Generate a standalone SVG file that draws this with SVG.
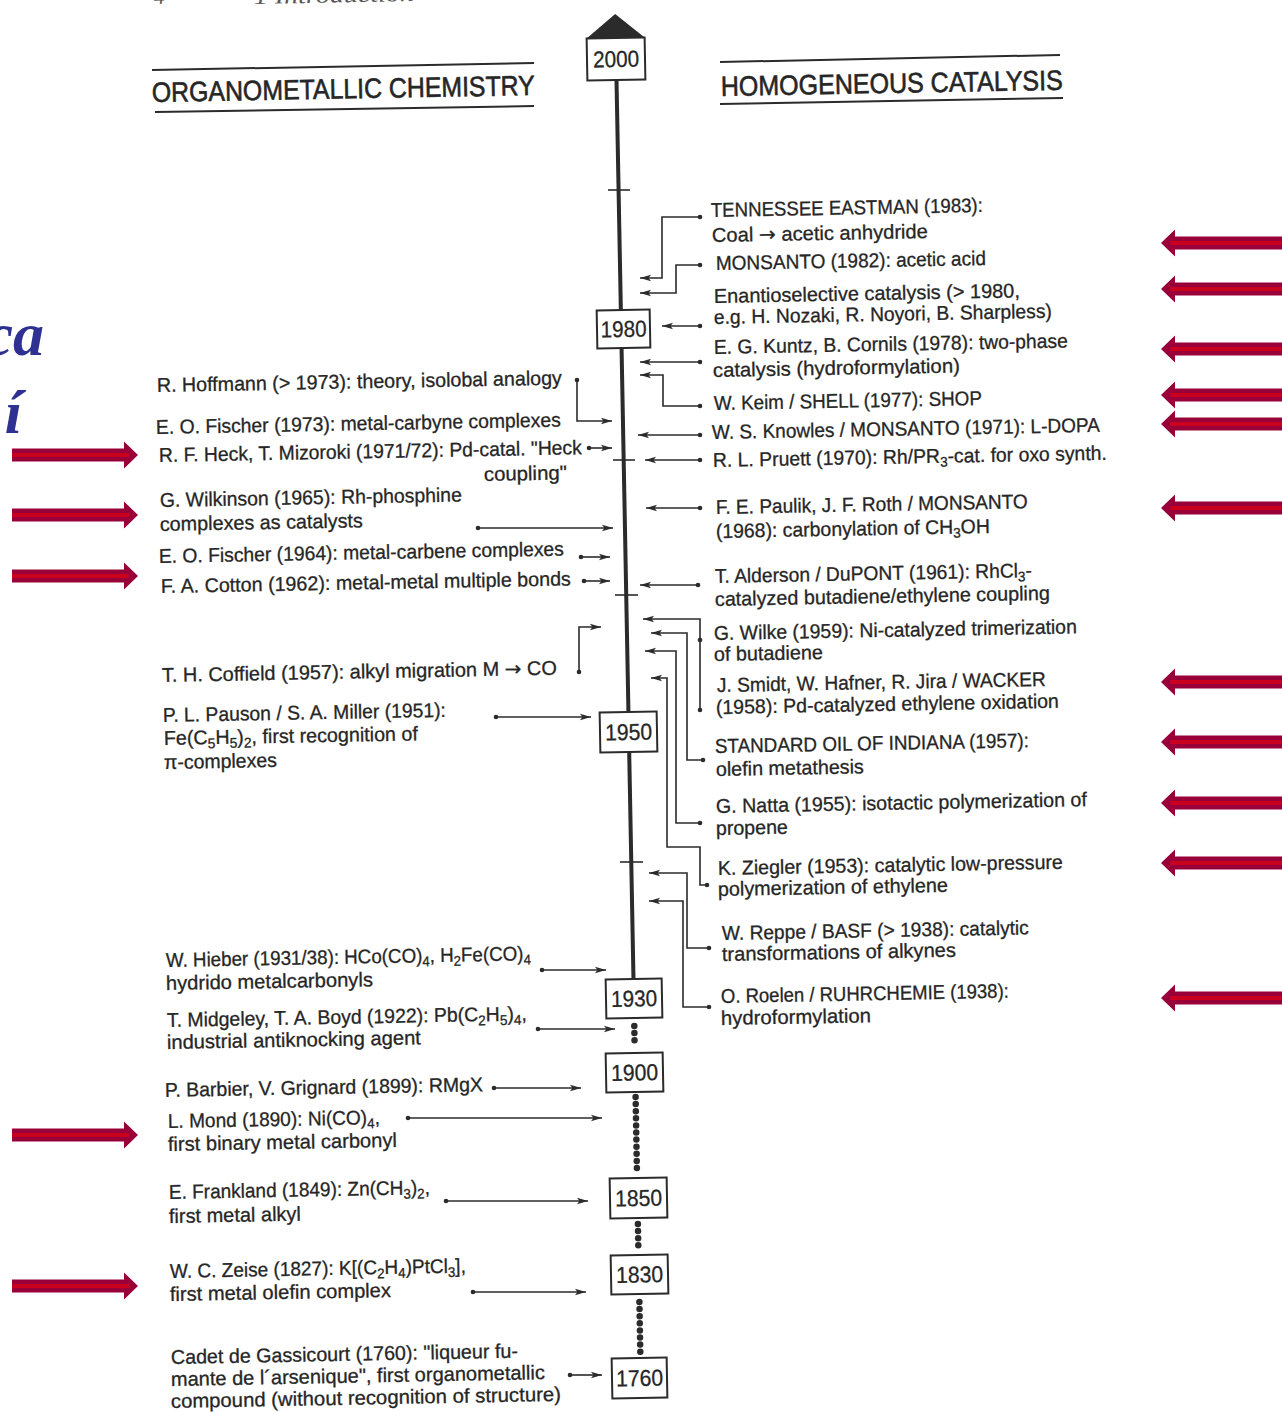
<svg xmlns="http://www.w3.org/2000/svg" width="1282" height="1412" viewBox="0 0 1282 1412">
<defs>
<style>
text{font-family:"Liberation Sans",Arial,Helvetica,sans-serif;fill:#262626}
.t{font-size:20px;stroke:#262626;stroke-width:0.3}
.s{font-size:14px}
.ar{font-family:"DejaVu Sans",sans-serif}
.hd{font-size:28px;stroke:#262626;stroke-width:0.6}
.yr rect{fill:#fff;stroke:#2b2b2b;stroke-width:2}
.yr text{font-size:23px;text-anchor:middle;stroke:#262626;stroke-width:0.3}
.rule{stroke:#2b2b2b;stroke-width:2}
.cn{fill:none;stroke:#2b2b2b;stroke-width:1.6;marker-start:url(#dot);marker-end:url(#ah)}
.axis{stroke:#2b2b2b;stroke-width:4}
.beads{stroke:#2b2b2b;stroke-width:6.5;stroke-dasharray:0 7.1;stroke-linecap:round}
.tick{stroke:#2b2b2b;stroke-width:1.6}
.slide{font-family:"Liberation Serif","Times New Roman",serif;font-weight:bold;font-style:italic;font-size:62px;fill:#2e3192}
.hdr{font-family:"Liberation Serif","Times New Roman",serif;font-style:italic;font-size:22px;fill:#555}
</style>
<marker id="ah" markerUnits="userSpaceOnUse" markerWidth="12" markerHeight="8" refX="11" refY="4" orient="auto"><path d="M0,0.8 L11,4 L0,7.2 L2.5,4 Z" fill="#2b2b2b"/></marker>
<marker id="dot" markerUnits="userSpaceOnUse" markerWidth="6" markerHeight="6" refX="3" refY="3"><circle cx="3" cy="3" r="2.3" fill="#2b2b2b"/></marker>
<g id="red-arrow"><path d="M0,0 L14,-13.5 L14,-6.5 L126,-6.5 L126,6.5 L14,6.5 L14,13.5 Z" fill="#99003a"/><path d="M9,0 H126" stroke="#c8001e" stroke-width="4"/></g>
</defs>
<rect width="1282" height="1412" fill="#fff"/>

<!-- page header (cut off) -->
<g id="page-header">
<text class="hdr" x="154" y="4" transform="rotate(-1.05 154 4)">4</text>
<text class="hdr" x="254" y="4" transform="rotate(-1.05 254 4)" textLength="160" lengthAdjust="spacingAndGlyphs">1  Introduction</text>
</g>

<!-- slide title fragments -->
<g id="slide-title">
<text class="slide" x="44" y="355" text-anchor="end">ca</text>
<text class="slide" x="22" y="433" text-anchor="end">í</text>
</g>

<!-- headings -->
<g id="heading-left">
<line class="rule" x1="152" y1="70" x2="534" y2="63"/>
<line class="rule" x1="155" y1="112" x2="534" y2="106"/>
<text class="hd" x="152" y="102" transform="rotate(-1.05 152 102)" textLength="383" lengthAdjust="spacingAndGlyphs">ORGANOMETALLIC CHEMISTRY</text>
</g>
<g id="heading-right">
<line class="rule" x1="720" y1="62" x2="1060" y2="55"/>
<line class="rule" x1="720" y1="104" x2="1063" y2="98"/>
<text class="hd" x="721" y="96" transform="rotate(-1.05 721 96)" textLength="342" lengthAdjust="spacingAndGlyphs">HOMOGENEOUS CATALYSIS</text>
</g>

<!-- timeline axis -->
<g id="axis">
<line class="axis" x1="616.5" y1="80" x2="633.5" y2="980"/>
<line class="tick" x1="608" y1="190" x2="630" y2="190"/>
<line class="tick" x1="613" y1="460" x2="635" y2="460"/>
<line class="tick" x1="615" y1="595" x2="638" y2="595"/>
<line class="tick" x1="620" y1="862" x2="643" y2="862"/>
<line class="beads" x1="634.3" y1="1026" x2="634.6" y2="1046"/>
<line class="beads" x1="635.6" y1="1097" x2="636.9" y2="1169"/>
<line class="beads" x1="637.9" y1="1224" x2="638.3" y2="1246"/>
<line class="beads" x1="639.4" y1="1302" x2="640.3" y2="1352"/>
</g>

<!-- connectors -->
<g id="connectors">
<path class="cn" d="M700,217 H662 V278 H640"/>
<path class="cn" d="M700,265 H676 V293 H640"/>
<path class="cn" d="M700,326 H662"/>
<path class="cn" d="M700,362 H640"/>
<path class="cn" d="M700,406 H663 V375 H640"/>
<path class="cn" d="M700,435 H638"/>
<path class="cn" d="M700,460 H645"/>
<path class="cn" d="M700,508 H646"/>
<path class="cn" d="M698,585 H640"/>
<path class="cn" d="M700,710 V619 H643"/>
<circle cx="700" cy="640" r="2.3" fill="#2b2b2b"/>
<path class="cn" d="M703,760 H687 V633 H651"/>
<path class="cn" d="M700,823 H676 V651 H645"/>
<path class="cn" d="M707,885 H700 V847 H667 V678 H651"/>
<path class="cn" d="M709,948 H687 V873 H649"/>
<path class="cn" d="M709,1007 H683 V901 H649"/>
<path class="cn" d="M577,380 V421 H612"/>
<path class="cn" d="M589,448 H612"/>
<path class="cn" d="M478,528 H613"/>
<path class="cn" d="M581,557 H610"/>
<path class="cn" d="M584,581 H610"/>
<path class="cn" d="M579,672 V627 H601"/>
<path class="cn" d="M496,717 H591"/>
<path class="cn" d="M542,970 H606"/>
<path class="cn" d="M538,1029 H615"/>
<path class="cn" d="M494,1088 H581"/>
<path class="cn" d="M408,1118 H602"/>
<path class="cn" d="M446,1201 H588"/>
<path class="cn" d="M473,1292 H586"/>
<path class="cn" d="M570,1375 H602"/>
</g>

<!-- year markers -->
<g id="y2000" class="yr" transform="translate(616,59) rotate(-1.05)">
<polygon points="-29,-21 0,-45 29,-21" fill="#2b2b2b"/>
<rect x="-29" y="-21" width="58" height="42"/>
<text x="0" y="8" textLength="46" lengthAdjust="spacingAndGlyphs">2000</text>
</g>
<g id="y1980" class="yr" transform="translate(623.5,329) rotate(-1.05)"><rect x="-26.5" y="-19" width="53" height="38"/><text x="0" y="8" textLength="46" lengthAdjust="spacingAndGlyphs">1980</text></g>
<g id="y1950" class="yr" transform="translate(628.5,732) rotate(-1.05)"><rect x="-28.5" y="-20" width="57" height="40"/><text x="0" y="8" textLength="47" lengthAdjust="spacingAndGlyphs">1950</text></g>
<g id="y1930" class="yr" transform="translate(634,998.5) rotate(-1.05)"><rect x="-28" y="-19.5" width="56" height="39"/><text x="0" y="8" textLength="46" lengthAdjust="spacingAndGlyphs">1930</text></g>
<g id="y1900" class="yr" transform="translate(634.5,1072.5) rotate(-1.05)"><rect x="-28.5" y="-19.5" width="57" height="39"/><text x="0" y="8" textLength="47" lengthAdjust="spacingAndGlyphs">1900</text></g>
<g id="y1850" class="yr" transform="translate(638.5,1198) rotate(-1.05)"><rect x="-28.5" y="-20" width="57" height="40"/><text x="0" y="8" textLength="47" lengthAdjust="spacingAndGlyphs">1850</text></g>
<g id="y1830" class="yr" transform="translate(639.5,1274.5) rotate(-1.05)"><rect x="-28.5" y="-19.5" width="57" height="39"/><text x="0" y="8" textLength="47" lengthAdjust="spacingAndGlyphs">1830</text></g>
<g id="y1760" class="yr" transform="translate(639.5,1378) rotate(-1.05)"><rect x="-27.5" y="-20" width="55" height="40"/><text x="0" y="8" textLength="47" lengthAdjust="spacingAndGlyphs">1760</text></g>

<!-- organometallic chemistry entries -->
<g id="hoffmann"><text class="t" x="157" y="392" transform="rotate(-1.05 157 392)" textLength="405" lengthAdjust="spacingAndGlyphs">R. Hoffmann (&gt; 1973): theory, isolobal analogy</text></g>
<g id="fischer1973"><text class="t" x="156" y="434" transform="rotate(-1.05 156 434)" textLength="405" lengthAdjust="spacingAndGlyphs">E. O. Fischer (1973): metal-carbyne complexes</text></g>
<g id="heck">
<text class="t" x="159" y="462" transform="rotate(-1.05 159 462)" textLength="423" lengthAdjust="spacingAndGlyphs">R. F. Heck, T. Mizoroki (1971/72): Pd-catal. "Heck</text>
<text class="t" x="484" y="481" transform="rotate(-1.05 484 481)" textLength="83" lengthAdjust="spacingAndGlyphs">coupling"</text>
</g>
<g id="wilkinson">
<text class="t" x="160" y="507" transform="rotate(-1.05 160 507)" textLength="302" lengthAdjust="spacingAndGlyphs">G. Wilkinson (1965): Rh-phosphine</text>
<text class="t" x="160" y="531" transform="rotate(-1.05 160 531)" textLength="203" lengthAdjust="spacingAndGlyphs">complexes as catalysts</text>
</g>
<g id="fischer1964"><text class="t" x="159" y="563" transform="rotate(-1.05 159 563)" textLength="405" lengthAdjust="spacingAndGlyphs">E. O. Fischer (1964): metal-carbene complexes</text></g>
<g id="cotton"><text class="t" x="161" y="593" transform="rotate(-1.05 161 593)" textLength="410" lengthAdjust="spacingAndGlyphs">F. A. Cotton (1962): metal-metal multiple bonds</text></g>
<g id="coffield"><text class="t" x="162" y="682" transform="rotate(-1.05 162 682)" textLength="395" lengthAdjust="spacingAndGlyphs">T. H. Coffield (1957): alkyl migration M <tspan class="ar">→</tspan>  CO</text></g>
<g id="pauson">
<text class="t" x="163" y="722" transform="rotate(-1.05 163 722)" textLength="283" lengthAdjust="spacingAndGlyphs">P. L. Pauson / S. A. Miller (1951):</text>
<text class="t" x="164" y="745" transform="rotate(-1.05 164 745)" textLength="254" lengthAdjust="spacingAndGlyphs">Fe(C<tspan class="s" dy="4">5</tspan><tspan dy="-4">H</tspan><tspan class="s" dy="4">5</tspan><tspan dy="-4">)</tspan><tspan class="s" dy="4">2</tspan><tspan dy="-4">, first recognition of</tspan></text>
<text class="t" x="164" y="769" transform="rotate(-1.05 164 769)" textLength="113" lengthAdjust="spacingAndGlyphs">π-complexes</text>
</g>
<g id="hieber">
<text class="t" x="166" y="967" transform="rotate(-1.05 166 967)" textLength="365" lengthAdjust="spacingAndGlyphs">W. Hieber (1931/38): HCo(CO)<tspan class="s" dy="4">4</tspan><tspan dy="-4">, H</tspan><tspan class="s" dy="4">2</tspan><tspan dy="-4">Fe(CO)</tspan><tspan class="s" dy="4">4</tspan></text>
<text class="t" x="166" y="990" transform="rotate(-1.05 166 990)" textLength="207" lengthAdjust="spacingAndGlyphs">hydrido metalcarbonyls</text>
</g>
<g id="midgeley">
<text class="t" x="167" y="1027" transform="rotate(-1.05 167 1027)" textLength="360" lengthAdjust="spacingAndGlyphs">T. Midgeley, T. A. Boyd (1922): Pb(C<tspan class="s" dy="4">2</tspan><tspan dy="-4">H</tspan><tspan class="s" dy="4">5</tspan><tspan dy="-4">)</tspan><tspan class="s" dy="4">4</tspan><tspan dy="-4">,</tspan></text>
<text class="t" x="167" y="1049" transform="rotate(-1.05 167 1049)" textLength="254" lengthAdjust="spacingAndGlyphs">industrial antiknocking agent</text>
</g>
<g id="barbier"><text class="t" x="165" y="1097" transform="rotate(-1.05 165 1097)" textLength="318" lengthAdjust="spacingAndGlyphs">P. Barbier, V. Grignard (1899): RMgX</text></g>
<g id="mond">
<text class="t" x="168" y="1128" transform="rotate(-1.05 168 1128)" textLength="212" lengthAdjust="spacingAndGlyphs">L. Mond (1890): Ni(CO)<tspan class="s" dy="4">4</tspan><tspan dy="-4">,</tspan></text>
<text class="t" x="168" y="1151" transform="rotate(-1.05 168 1151)" textLength="229" lengthAdjust="spacingAndGlyphs">first binary metal carbonyl</text>
</g>
<g id="frankland">
<text class="t" x="169" y="1199" transform="rotate(-1.05 169 1199)" textLength="261" lengthAdjust="spacingAndGlyphs">E. Frankland (1849): Zn(CH<tspan class="s" dy="4">3</tspan><tspan dy="-4">)</tspan><tspan class="s" dy="4">2</tspan><tspan dy="-4">,</tspan></text>
<text class="t" x="169" y="1223" transform="rotate(-1.05 169 1223)" textLength="132" lengthAdjust="spacingAndGlyphs">first metal alkyl</text>
</g>
<g id="zeise">
<text class="t" x="170" y="1278" transform="rotate(-1.05 170 1278)" textLength="296" lengthAdjust="spacingAndGlyphs">W. C. Zeise (1827): K[(C<tspan class="s" dy="4">2</tspan><tspan dy="-4">H</tspan><tspan class="s" dy="4">4</tspan><tspan dy="-4">)PtCl</tspan><tspan class="s" dy="4">3</tspan><tspan dy="-4">],</tspan></text>
<text class="t" x="170" y="1301" transform="rotate(-1.05 170 1301)" textLength="221" lengthAdjust="spacingAndGlyphs">first metal olefin complex</text>
</g>
<g id="cadet">
<text class="t" x="171" y="1364" transform="rotate(-1.05 171 1364)" textLength="347" lengthAdjust="spacingAndGlyphs">Cadet de Gassicourt (1760): "liqueur fu-</text>
<text class="t" x="171" y="1386" transform="rotate(-1.05 171 1386)" textLength="374" lengthAdjust="spacingAndGlyphs">mante de l´arsenique", first organometallic</text>
<text class="t" x="171" y="1408" transform="rotate(-1.05 171 1408)" textLength="390" lengthAdjust="spacingAndGlyphs">compound (without recognition of structure)</text>
</g>

<!-- homogeneous catalysis entries -->
<g id="tennessee">
<text class="t" x="711" y="217" transform="rotate(-1.05 711 217)" textLength="272" lengthAdjust="spacingAndGlyphs">TENNESSEE EASTMAN (1983):</text>
<text class="t" x="712" y="242" transform="rotate(-1.05 712 242)" textLength="216" lengthAdjust="spacingAndGlyphs">Coal <tspan class="ar">→</tspan> acetic anhydride</text>
</g>
<g id="monsanto1982"><text class="t" x="716" y="270" transform="rotate(-1.05 716 270)" textLength="270" lengthAdjust="spacingAndGlyphs">MONSANTO (1982): acetic acid</text></g>
<g id="enantio">
<text class="t" x="714" y="303" transform="rotate(-1.05 714 303)" textLength="306" lengthAdjust="spacingAndGlyphs">Enantioselective catalysis  (&gt; 1980,</text>
<text class="t" x="714" y="324" transform="rotate(-1.05 714 324)" textLength="338" lengthAdjust="spacingAndGlyphs">e.g. H. Nozaki, R. Noyori, B. Sharpless)</text>
</g>
<g id="kuntz">
<text class="t" x="714" y="354" transform="rotate(-1.05 714 354)" textLength="354" lengthAdjust="spacingAndGlyphs">E. G. Kuntz, B. Cornils (1978): two-phase</text>
<text class="t" x="713" y="377" transform="rotate(-1.05 713 377)" textLength="247" lengthAdjust="spacingAndGlyphs">catalysis (hydroformylation)</text>
</g>
<g id="keim"><text class="t" x="714" y="410" transform="rotate(-1.05 714 410)" textLength="268" lengthAdjust="spacingAndGlyphs">W. Keim / SHELL (1977): SHOP</text></g>
<g id="knowles"><text class="t" x="712" y="439" transform="rotate(-1.05 712 439)" textLength="388" lengthAdjust="spacingAndGlyphs">W. S. Knowles / MONSANTO (1971): L-DOPA</text></g>
<g id="pruett"><text class="t" x="713" y="467" transform="rotate(-1.05 713 467)" textLength="394" lengthAdjust="spacingAndGlyphs">R. L. Pruett (1970): Rh/PR<tspan class="s" dy="4">3</tspan><tspan dy="-4">-cat. for oxo synth.</tspan></text></g>
<g id="paulik">
<text class="t" x="716" y="514" transform="rotate(-1.05 716 514)" textLength="312" lengthAdjust="spacingAndGlyphs">F. E. Paulik, J. F. Roth / MONSANTO</text>
<text class="t" x="716" y="538" transform="rotate(-1.05 716 538)" textLength="274" lengthAdjust="spacingAndGlyphs">(1968): carbonylation of CH<tspan class="s" dy="4">3</tspan><tspan dy="-4">OH</tspan></text>
</g>
<g id="alderson">
<text class="t" x="715" y="583" transform="rotate(-1.05 715 583)" textLength="317" lengthAdjust="spacingAndGlyphs">T. Alderson / DuPONT (1961): RhCl<tspan class="s" dy="4">3</tspan><tspan dy="-4">-</tspan></text>
<text class="t" x="715" y="606" transform="rotate(-1.05 715 606)" textLength="335" lengthAdjust="spacingAndGlyphs">catalyzed butadiene/ethylene coupling</text>
</g>
<g id="wilke">
<text class="t" x="714" y="640" transform="rotate(-1.05 714 640)" textLength="363" lengthAdjust="spacingAndGlyphs">G. Wilke (1959): Ni-catalyzed trimerization</text>
<text class="t" x="714" y="661" transform="rotate(-1.05 714 661)" textLength="109" lengthAdjust="spacingAndGlyphs">of butadiene</text>
</g>
<g id="smidt">
<text class="t" x="717" y="692" transform="rotate(-1.05 717 692)" textLength="329" lengthAdjust="spacingAndGlyphs">J. Smidt, W. Hafner, R. Jira / WACKER</text>
<text class="t" x="716" y="714" transform="rotate(-1.05 716 714)" textLength="343" lengthAdjust="spacingAndGlyphs">(1958): Pd-catalyzed ethylene oxidation</text>
</g>
<g id="standard-oil">
<text class="t" x="715" y="753" transform="rotate(-1.05 715 753)" textLength="314" lengthAdjust="spacingAndGlyphs">STANDARD OIL OF INDIANA (1957):</text>
<text class="t" x="716" y="776" transform="rotate(-1.05 716 776)" textLength="148" lengthAdjust="spacingAndGlyphs">olefin metathesis</text>
</g>
<g id="natta">
<text class="t" x="716" y="813" transform="rotate(-1.05 716 813)" textLength="371" lengthAdjust="spacingAndGlyphs">G. Natta (1955): isotactic polymerization of</text>
<text class="t" x="716" y="835" transform="rotate(-1.05 716 835)" textLength="72" lengthAdjust="spacingAndGlyphs">propene</text>
</g>
<g id="ziegler">
<text class="t" x="718" y="875" transform="rotate(-1.05 718 875)" textLength="345" lengthAdjust="spacingAndGlyphs">K. Ziegler (1953): catalytic low-pressure</text>
<text class="t" x="718" y="896" transform="rotate(-1.05 718 896)" textLength="230" lengthAdjust="spacingAndGlyphs">polymerization of ethylene</text>
</g>
<g id="reppe">
<text class="t" x="722" y="940" transform="rotate(-1.05 722 940)" textLength="307" lengthAdjust="spacingAndGlyphs">W. Reppe / BASF (&gt; 1938): catalytic</text>
<text class="t" x="722" y="961" transform="rotate(-1.05 722 961)" textLength="234" lengthAdjust="spacingAndGlyphs">transformations of alkynes</text>
</g>
<g id="roelen">
<text class="t" x="721" y="1003" transform="rotate(-1.05 721 1003)" textLength="288" lengthAdjust="spacingAndGlyphs">O. Roelen / RUHRCHEMIE (1938):</text>
<text class="t" x="721" y="1025" transform="rotate(-1.05 721 1025)" textLength="150" lengthAdjust="spacingAndGlyphs">hydroformylation</text>
</g>

<!-- red highlight arrows -->
<g id="highlight-arrows">
<use href="#red-arrow" transform="translate(138,455) scale(-1,1)"/>
<use href="#red-arrow" transform="translate(138,515) scale(-1,1)"/>
<use href="#red-arrow" transform="translate(138,576) scale(-1,1)"/>
<use href="#red-arrow" transform="translate(138,1135) scale(-1,1)"/>
<use href="#red-arrow" transform="translate(138,1286) scale(-1,1)"/>
<use href="#red-arrow" transform="translate(1161,243)"/>
<use href="#red-arrow" transform="translate(1161,289)"/>
<use href="#red-arrow" transform="translate(1161,349)"/>
<use href="#red-arrow" transform="translate(1161,395)"/>
<use href="#red-arrow" transform="translate(1161,424)"/>
<use href="#red-arrow" transform="translate(1161,508)"/>
<use href="#red-arrow" transform="translate(1161,682)"/>
<use href="#red-arrow" transform="translate(1161,742)"/>
<use href="#red-arrow" transform="translate(1161,803)"/>
<use href="#red-arrow" transform="translate(1161,863)"/>
<use href="#red-arrow" transform="translate(1161,998)"/>
</g>
</svg>
